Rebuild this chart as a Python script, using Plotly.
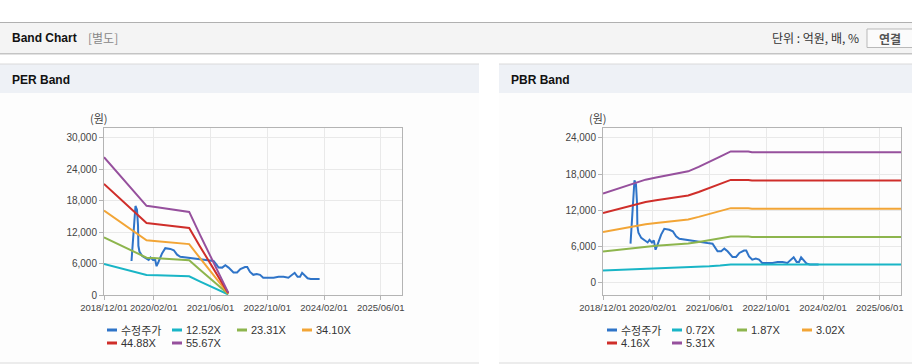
import plotly.graph_objects as go

W, H = 912, 364

# ---------------- data ----------------
price_dates = ["2019-07-25", "2019-08-04", "2019-08-19", "2019-08-28", "2019-09-10", "2019-09-19",
               "2019-09-22", "2019-10-01", "2019-10-25", "2019-11-22", "2019-12-19", "2020-01-04",
               "2020-01-25", "2020-02-10", "2020-02-25", "2020-03-13", "2020-04-13", "2020-05-10",
               "2020-06-22", "2020-07-22", "2020-08-19", "2020-09-16", "2020-11-01", "2020-12-25",
               "2021-02-07", "2021-03-19", "2021-05-16", "2021-06-28", "2021-07-28", "2021-08-10",
               "2021-09-10", "2021-10-07", "2021-11-04", "2021-12-16", "2022-01-16", "2022-02-13",
               "2022-03-25", "2022-04-13", "2022-05-07", "2022-06-04", "2022-07-04", "2022-08-01",
               "2022-08-28", "2022-10-10", "2022-11-25", "2023-01-07", "2023-02-19", "2023-04-01",
               "2023-05-04", "2023-05-25", "2023-06-19", "2023-07-10", "2023-07-28", "2023-08-22",
               "2023-09-13", "2023-10-10", "2023-12-25"]
price_vals = [6500, 9900, 15400, 17000, 16300, 13200,
              9400, 8300, 7450, 7050, 6700, 7150,
              6700, 7050, 5500, 6350, 8000, 8950,
              8800, 8550, 7700, 7300, 7150, 7050,
              6900, 6700, 6600, 6500, 5650, 5250,
              5230, 5680, 5230, 4300, 4300, 4960,
              5350, 5350, 4400, 3860, 4020, 3860,
              3310, 3310, 3310, 3480, 3480, 3310,
              3860, 4240, 3480, 3480, 4240, 3580,
              3200, 3060, 3060]

per_dates = ["2018-12-01", "2019-03-01", "2019-06-01", "2019-09-01", "2019-12-01", "2020-03-01",
             "2020-06-01", "2020-09-01", "2020-12-01", "2021-03-01", "2021-06-01", "2021-09-01",
             "2021-11-01"]
per_names = ["12.52X", "23.31X", "34.10X", "44.88X", "55.67X"]
per_1252 = [5922, 5396, 4883, 4357, 3831, 3769, 3706, 3631, 3568, 2617, 1678, 726, 100]
per_2331 = [11026, 10047, 9091, 8112, 7133, 7016, 6900, 6760, 6643, 4872, 3124, 1352, 186]
per_3410 = [16129, 14697, 13299, 11867, 10435, 10264, 10094, 9889, 9719, 7127, 4569, 1978, 273]
per_4488 = [21228, 19343, 17503, 15618, 13733, 13509, 13284, 13015, 12791, 9380, 6014, 2603, 359]
per_5567 = [26332, 23994, 21711, 19373, 17035, 16757, 16478, 16144, 15866, 11635, 7460, 3229, 445]

pbr_dates = ["2018-12-01", "2019-03-01", "2019-06-01", "2019-09-01", "2019-12-01", "2020-03-01",
             "2020-06-01", "2020-09-01", "2020-12-01", "2021-03-01", "2021-06-01", "2021-09-01",
             "2021-12-01", "2022-05-01", "2022-06-01", "2025-12-01"]
pbr_names = ["0.72X", "1.87X", "3.02X", "4.16X", "5.31X"]
pbr_072 = [2040, 2110, 2200, 2270, 2340, 2400, 2450, 2500, 2560, 2660, 2780, 2900, 3060, 3060, 3040, 3040]
pbr_187 = [5208, 5404, 5647, 5834, 6021, 6152, 6265, 6377, 6508, 6769, 7087, 7368, 7667, 7667, 7617, 7617]
pbr_302 = [8411, 8728, 9120, 9422, 9724, 9936, 10117, 10298, 10510, 10932, 11446, 11899, 12382, 12382, 12300, 12300]
pbr_416 = [11586, 12022, 12563, 12979, 13395, 13686, 13936, 14186, 14477, 15059, 15766, 16390, 17056, 17056, 16944, 16944]
pbr_531 = [14788, 15346, 16036, 16567, 17098, 17470, 17789, 18107, 18479, 19222, 20125, 20921, 21771, 21771, 21628, 21628]

x_tickvals = ["2018-12-01", "2020-02-01", "2021-06-01", "2022-10-01", "2024-02-01", "2025-06-01"]
x_ticktext = ["2018/12/01", "2020/02/01", "2021/06/01", "2022/10/01", "2024/02/01", "2025/06/01"]
x_range = ["2018-12-01", "2025-12-01"]
per_yticks = [0, 6000, 12000, 18000, 24000, 30000]
pbr_yticks = [0, 6000, 12000, 18000, 24000]

price_name = "수정주가"
colors = ["#2f74c8", "#19b5c6", "#8db54d", "#f2a536", "#cf2e2a", "#96509d"]

# ---------------- figure ----------------
FONT = "Liberation Sans, Arial, Noto Sans CJK KR, sans-serif"
KFONT = "Noto Sans CJK KR, Liberation Sans, sans-serif"

fig = go.Figure()

def add_lines(xref, yref, dates, series, names):
    fig.add_trace(go.Scatter(x=price_dates, y=price_vals, mode="lines", name=price_name,
                             line=dict(color=colors[0], width=2), xaxis=xref, yaxis=yref,
                             showlegend=False))
    for i, (vals, nm) in enumerate(zip(series, names)):
        fig.add_trace(go.Scatter(x=dates, y=vals, mode="lines", name=nm,
                                 line=dict(color=colors[i + 1], width=2), xaxis=xref, yaxis=yref,
                                 showlegend=False))

add_lines("x", "y", per_dates, [per_1252, per_2331, per_3410, per_4488, per_5567], per_names)
add_lines("x2", "y2", pbr_dates, [pbr_072, pbr_187, pbr_302, pbr_416, pbr_531], pbr_names)

def px(x):
    return x / W

def py(y):
    return 1 - y / H

axis_common = dict(showline=True, mirror=True, linecolor="#b4b4b4", linewidth=1,
                   gridcolor="#e9e9e9", gridwidth=1, ticks="outside", ticklen=4,
                   tickcolor="#b4b4b4", tickfont=dict(family=FONT, size=10, color="#444"),
                   zeroline=False, automargin=False)

fig.update_layout(
    template=None,
    width=W, height=H, margin=dict(l=0, r=0, t=0, b=0, autoexpand=False),
    paper_bgcolor="white", plot_bgcolor="white", showlegend=False,
    xaxis=dict(domain=[px(104), px(402)], anchor="y", type="date", range=x_range,
               tickvals=x_tickvals, ticktext=x_ticktext, tickangle=0, **axis_common),
    yaxis=dict(domain=[py(295), py(128)], anchor="x", range=[0, 31900],
               tickvals=per_yticks, tickformat=",", **axis_common),
    xaxis2=dict(domain=[px(603), px(901)], anchor="y2", type="date", range=x_range,
                tickvals=x_tickvals, ticktext=x_ticktext, tickangle=0, **axis_common),
    yaxis2=dict(domain=[py(295), py(128)], anchor="x2", range=[-2000, 25650],
                tickvals=pbr_yticks, tickformat=",", **axis_common),
)
fig.update_xaxes(tickfont=dict(size=9.5))

shapes = []
ann = []

def rect(x0, y0, x1, y1, fill, line=None, layer="below"):
    shapes.append(dict(type="rect", xref="paper", yref="paper", x0=px(x0), x1=px(x1),
                       y0=py(y1), y1=py(y0), fillcolor=fill, layer=layer,
                       line=dict(width=1 if line else 0, color=line or fill)))

def hline(x0, x1, y, color, w=1):
    shapes.append(dict(type="line", xref="paper", yref="paper", x0=px(x0), x1=px(x1),
                       y0=py(y), y1=py(y), line=dict(color=color, width=w), layer="below"))

def text(x, y, s, size=12, color="#333", bold=False, xanchor="left", family=FONT):
    ann.append(dict(xref="paper", yref="paper", x=px(x), y=py(y), text=("<b>%s</b>" % s) if bold else s,
                    showarrow=False, xanchor=xanchor, yanchor="middle",
                    font=dict(family=family, size=size, color=color)))

# top header bar
rect(0, 22, W, 53, "#f4f4f4")
hline(0, W, 22.5, "#b0b0b0")
hline(0, W, 53.5, "#c4c4c4")
hline(0, W, 54.5, "#e2e2e2")
text(10, 38, "Band Chart", size=12, color="#111", bold=True)
text(86, 38, "[별도]", size=12, color="#888", family=KFONT)
text(861, 38, "단위 : 억원, 배, %", size=12, color="#333", xanchor="right", family=KFONT)
shapes.append(dict(type="rect", xref="paper", yref="paper", x0=px(867), x1=px(918),
                   y0=py(47.5), y1=py(29), fillcolor="#fbfbfb", line=dict(color="#b9b9b9", width=1),
                   layer="below"))
text(890, 38.5, "연결", size=12, color="#555", bold=True, xanchor="center", family=KFONT)

# panels
for (a, b) in [(0, 479), (499, W)]:
    rect(a, 64, b, 93, "#eef1f6")
    rect(a, 93, b, 363, "#fdfdfd")
    hline(a, b, 64, "#dadada")
    hline(a, b, 363, "#dadada")
text(10, 80, "PER Band", size=12, color="#111", bold=True)
text(509, 80, "PBR Band", size=12, color="#111", bold=True)

# unit labels
text(99, 118, "(원)", size=11, color="#444", xanchor="center", family=KFONT)
text(598, 118, "(원)", size=11, color="#444", xanchor="center", family=KFONT)

# legends
def legend(x0, names):
    items = [price_name] + names
    for i, nm in enumerate(items):
        row, col = divmod(i, 4)
        lx = x0 + col * 65
        ly = 330 + row * 13
        shapes.append(dict(type="line", xref="paper", yref="paper", x0=px(lx), x1=px(lx + 10),
                           y0=py(ly), y1=py(ly), line=dict(color=colors[i], width=3)))
        text(lx + 12, ly, nm, size=11, color="#333",
             family=KFONT if i == 0 else FONT)

legend(107, per_names)
legend(607, pbr_names)

fig.update_layout(shapes=shapes, annotations=ann)
fig.write_html("out.html", config={"displayModeBar": False},
               post_script="document.body.style.margin='0';document.body.style.overflow='hidden';")
